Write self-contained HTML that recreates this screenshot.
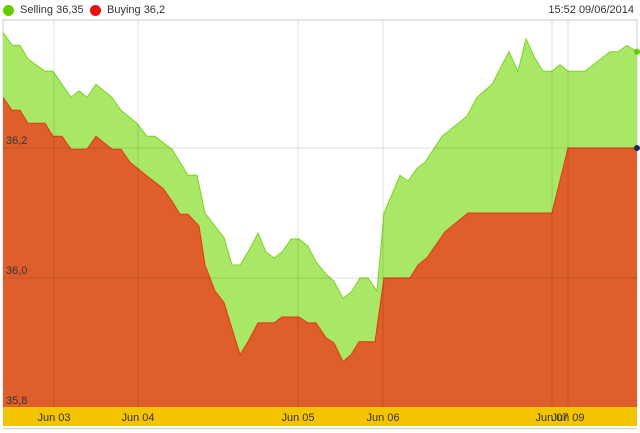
<!DOCTYPE html>
<html><head><meta charset="utf-8"><style>
body{margin:0;background:#fff;font-family:"Liberation Sans",Arial,sans-serif}
svg{display:block}
text{font-family:"Liberation Sans",Arial,sans-serif;font-size:11px;fill:#333}
</style></head><body>
<svg id="chart" width="640" height="433"></svg>
<script>
const sellT=[0,9,17,25,42,50,68,76,84,93,109,118,134,144,152,169,185,194,202,221,229,237,245,255,263,271,279,288,296,305,313,323,331,340,348,357,365,374,381,397,405,414,422,439,464,474,489,499,506,515,523,532,540,549,557,565,582,607,615,624,634];
const sellV=[36.378,36.358,36.358,36.337,36.318,36.318,36.278,36.288,36.278,36.298,36.278,36.258,36.238,36.218,36.218,36.198,36.158,36.158,36.100,36.062,36.020,36.020,36.040,36.069,36.040,36.031,36.040,36.060,36.060,36.049,36.025,36.006,35.995,35.969,35.978,36.000,36.000,35.980,36.100,36.158,36.149,36.169,36.178,36.218,36.249,36.278,36.298,36.328,36.348,36.318,36.368,36.338,36.318,36.318,36.328,36.318,36.318,36.348,36.348,36.358,36.348];
const buyT=[0,9,17,25,42,50,59,68,84,93,109,118,127,143,160,169,177,185,196,202,212,221,237,245,255,271,279,296,305,313,323,331,340,348,356,372,381,407,415,424,442,465,549,565,634];
const buyV=[36.278,36.258,36.258,36.238,36.238,36.218,36.218,36.198,36.198,36.218,36.198,36.198,36.178,36.158,36.138,36.118,36.098,36.098,36.080,36.020,35.980,35.962,35.882,35.902,35.931,35.931,35.940,35.940,35.931,35.931,35.908,35.900,35.871,35.882,35.902,35.902,36.000,36.000,36.020,36.031,36.071,36.100,36.100,36.200,36.200];
const yTicks=[35.8,36.0,36.2];
const yTickLabels=["35,8","36,0","36,2"];
const xTickT=[51,135,295,380,549,565];
const xTickLabels=["Jun 03","Jun 04","Jun 05","Jun 06","Jun 07","Jun 09"];

const X0=3,X1=637,TOP=20,BOT=407;
const sx=t=>X0+t*(X1-X0)/634;
const sy=v=>278-(v-36)*650;
const NS="http://www.w3.org/2000/svg";
const svg=document.getElementById('chart');
function mk(tag,attrs,parent){const e=document.createElementNS(NS,tag);for(const k in attrs)e.setAttribute(k,attrs[k]);(parent||svg).appendChild(e);return e;}

const bg=mk('rect',{x:X0,y:TOP,width:X1-X0,height:BOT-TOP,fill:'#fff',stroke:'#ccc'});



function area(ts,vs,fill,stroke,name){
  let d='M'+sx(ts[0])+','+BOT;
  ts.forEach((t,i)=>d+=' L'+sx(t).toFixed(1)+','+sy(vs[i]).toFixed(1));
  d+=' L'+sx(ts[ts.length-1])+','+BOT+' Z';
  const a=mk('path',{d:d,fill:fill});
  
  
  let l='';ts.forEach((t,i)=>l+=(i?' L':'M')+sx(t).toFixed(1)+','+sy(vs[i]).toFixed(1));
  const p=mk('path',{d:l,fill:'none',stroke:stroke,'stroke-width':1});
  
  
}
area(sellT,sellV,'#a8e866','#7ed321','selling');
area(buyT,buyV,'#de5f2b','#e8360c','buying');

// gridlines over areas (faint)
yTicks.forEach((v,i)=>{
  const g=mk('line',{x1:X0,x2:X1,y1:sy(v),y2:sy(v),stroke:'rgba(0,0,0,0.12)'});
  
  
  const t=mk('text',{x:6,y:sy(v)-4});t.textContent=yTickLabels[i];
  
  
});
xTickT.forEach(t=>{
  const g=mk('line',{x1:sx(t),x2:sx(t),y1:TOP,y2:BOT,stroke:'rgba(0,0,0,0.12)'});
  
  
});
const band=mk('rect',{x:X0,y:BOT,width:X1-X0,height:19,fill:'#f5c400'});


const bl=mk('line',{x1:X0,x2:X1,y1:428.5,y2:428.5,stroke:'#ccc'});


xTickT.forEach((t,i)=>{
  const tx=mk('text',{x:sx(t),y:421,'text-anchor':'middle'});tx.textContent=xTickLabels[i];
  
  
});
const d1=mk('circle',{cx:sx(634),cy:sy(sellV[sellV.length-1]),r:3,fill:'#66cc00'});


const d2=mk('circle',{cx:sx(634),cy:sy(buyV[buyV.length-1]),r:3,fill:'#1a2a5a'});


</script>
<div style="position:absolute;left:0;top:0;width:640px;height:20px">
 <div style="position:absolute;left:3px;top:4px;font-size:11px;color:#333;display:flex;align-items:center"><span style="display:inline-block;width:11px;height:11px;border-radius:50%;background:#66cc00;margin-right:6px"></span>Selling 36,35</div>
 <div style="position:absolute;left:90px;top:4px;font-size:11px;color:#333;display:flex;align-items:center"><span style="display:inline-block;width:11px;height:11px;border-radius:50%;background:#e81010;margin-right:6px"></span>Buying 36,2</div>
 <div style="position:absolute;right:6px;top:4px;font-size:11px;color:#333">15:52 09/06/2014</div>
</div>
</body></html>
